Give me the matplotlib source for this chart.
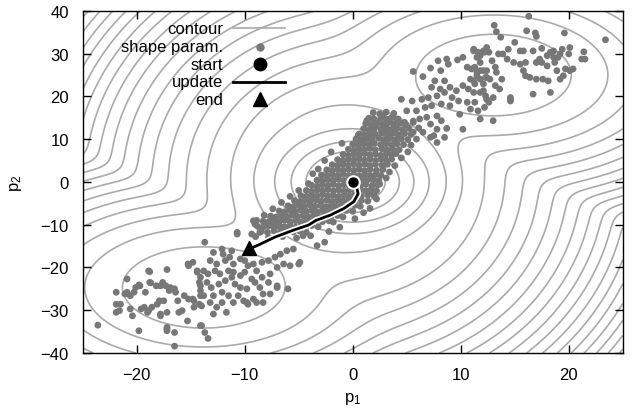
import numpy as np
import matplotlib
matplotlib.use('Agg')
import matplotlib.pyplot as plt
import matplotlib.patheffects as pe
from matplotlib.lines import Line2D

plt.rcParams['font.family'] = 'Liberation Sans'
plt.rcParams['font.size'] = 12
plt.rcParams['mathtext.fontset'] = 'custom'
plt.rcParams['mathtext.rm'] = 'Liberation Sans'
plt.rcParams['mathtext.it'] = 'Liberation Sans'

#--- shape parameters (p1, p2) ---
upper_lobe = [
    (16.3, 38.7), (13.1, 36.6), (13.3, 35.1), (16.1, 35.3), (16.9, 34.8), (17.0, 34.0), (19.6, 34.8),
    (23.4, 33.2), (13.7, 33.8), (15.0, 32.6), (12.4, 31.4), (12.1, 30.6), (11.2, 30.6), (11.6, 30.3),
    (12.6, 30.3), (14.4, 31.0), (15.5, 30.6), (15.8, 30.6), (16.7, 30.6), (17.5, 31.2), (18.3, 30.3),
    (18.6, 30.6), (19.4, 31.0), (20.1, 31.4), (21.4, 30.4), (21.2, 28.7), (21.5, 28.7), (11.5, 29.1),
    (11.8, 27.9), (12.9, 28.3), (13.5, 29.9), (13.9, 29.9), (14.3, 28.7), (14.9, 27.9), (15.5, 27.5),
    (16.0, 27.9), (17.0, 27.9), (17.3, 28.7), (18.0, 29.5), (18.6, 29.1), (19.0, 29.1), (19.2, 29.9),
    (20.0, 29.9), (11.3, 26.8), (11.8, 26.0), (12.4, 26.0), (13.2, 26.8), (13.3, 25.6), (13.8, 24.0),
    (12.7, 24.0), (12.3, 24.4), (11.5, 24.8), (11.2, 23.6), (11.3, 22.9), (12.1, 22.9), (13.2, 22.5),
    (13.6, 21.7), (12.1, 21.3), (12.3, 20.1), (13.0, 19.7), (12.6, 18.6), (14.6, 19.7), (14.6, 18.9),
    (15.8, 26.0), (16.0, 24.8), (16.4, 24.4), (17.0, 24.0), (17.6, 24.0), (18.1, 23.6), (18.9, 26.0),
    (19.7, 26.4), (20.1, 26.0), (20.4, 26.4), (19.2, 24.0), (19.5, 24.8), (16.7, 20.5), (18.3, 20.9),
    (18.0, 27.1), (17.5, 27.9), (18.7, 27.9),
    (5.6, 25.8), (6.5, 24.6), (7.2, 26.6), (7.9, 28.3), (8.7, 28.7), (8.85, 27.5), (8.15, 26.0),
    (9.7, 28.5), (10.2, 29.1), (11.2, 31.0), (11.8, 29.5), (12.2, 30.3), (10.6, 26.8), (11.0, 26.4),
    (11.5, 25.6), (12.1, 26.0), (10.9, 24.0), (11.8, 24.0), (12.4, 24.4), (8.5, 23.6), (7.6, 23.6),
    (7.3, 22.1), (8.1, 21.7), (9.0, 22.1), (9.6, 21.3), (10.2, 22.5), (10.7, 21.7), (11.2, 20.9),
    (11.8, 20.9), (4.5, 19.3), (5.5, 18.9), (6.4, 19.3), (7.0, 19.7), (7.8, 20.1), (8.5, 20.9),
    (9.2, 19.7), (9.8, 18.9), (10.6, 18.6), (11.3, 18.6), (10.9, 17.0), (11.6, 16.6), (12.2, 17.4),
    (12.4, 19.3), (5.0, 16.6), (5.9, 16.6), (6.7, 17.4), (7.3, 17.8), (8.2, 18.2), (9.0, 17.8),
    (9.9, 15.8), (11.8, 14.7), (10.2, 12.3), (2.8, 15.4), (3.45, 14.7), (1.9, 14.8), (4.2, 14.7),
    (4.8, 13.9), (5.6, 13.9), (6.2, 14.7), (6.85, 15.1), (7.8, 15.4), (8.2, 14.3), (7.2, 13.5),
    (7.8, 12.3), (8.7, 12.5), (2.1, 13.1), (3.0, 12.7), (3.9, 11.9), (4.7, 11.6), (5.6, 11.6),
    (6.5, 11.6), (7.5, 10.8), (13.0, 14.3), (14.6, 19.3), (8.5, 10.4), (7.8, 9.2), (7.2, 10.4),
    (1.6, 11.2), (3.1, 11.9),
]

lower_lobe = [
    (-23.6, -33.5), (-19.8, -34.8), (-18.8, -21.0), (-17.2, -20.5), (-15.25, -19.2), (-15.2, -19.6),
    (-18.7, -23.6), (-18.2, -24.3), (-17.6, -23.5), (-17.3, -24.3), (-16.9, -24.7), (-16.5, -25.0),
    (-16.4, -25.8), (-17.0, -25.4), (-19.8, -24.1), (-20.1, -24.7), (-20.9, -25.8), (-20.6, -26.6),
    (-20.25, -25.8), (-19.2, -25.8), (-21.9, -28.6), (-21.5, -28.6), (-21.9, -30.5), (-21.6, -30.1),
    (-20.6, -29.7), (-20.4, -31.3), (-19.6, -29.7), (-19.3, -29.3), (-18.9, -30.1), (-18.6, -29.3),
    (-19.0, -30.5), (-17.8, -30.9), (-17.2, -30.5), (-17.9, -27.8), (-17.5, -27.8), (-18.1, -28.6),
    (-16.2, -27.8), (-16.1, -30.5), (-15.8, -30.1), (-15.6, -26.6), (-15.2, -27.4), (-14.7, -27.8),
    (-14.2, -28.6), (-14.7, -29.3), (-15.3, -32.5), (-14.1, -33.6), (-17.2, -34.0), (-17.2, -34.8),
    (-16.5, -35.2), (-16.5, -38.4), (-14.4, -21.1), (-14.2, -23.5), (-14.1, -25.4), (-14.1, -26.6),
    (-13.7, -14.1), (-14.8, -18.8), (-12.9, -16.5), (-12.1, -15.7), (-12.0, -16.9), (-11.2, -16.1),
    (-10.7, -12.2), (-9.05, -9.9), (-9.35, -12.2), (-8.6, -11.8), (-8.1, -9.9), (-7.35, -8.7),
    (-7.0, -10.3), (-6.1, -8.7), (-4.9, -18.8), (-13.2, -18.4), (-12.6, -19.2), (-11.8, -18.4),
    (-11.4, -17.6), (-11.05, -19.2), (-10.4, -18.0), (-10.0, -18.4), (-9.7, -19.6), (-9.2, -19.2),
    (-8.9, -20.8), (-8.4, -18.8), (-7.8, -18.4), (-7.2, -17.6), (-6.7, -16.9), (-6.1, -16.1),
    (-5.5, -15.7), (-14.4, -20.8), (-13.8, -20.8), (-14.1, -22.3), (-13.4, -21.5), (-12.75, -20.8),
    (-12.3, -21.5), (-11.5, -20.8), (-11.05, -21.1), (-10.4, -21.9), (-10.0, -21.1), (-9.35, -22.7),
    (-9.05, -23.5), (-8.4, -22.3), (-7.65, -21.5), (-7.0, -20.0), (-6.4, -19.2), (-5.8, -19.6),
    (-14.1, -24.3), (-13.5, -23.5), (-13.1, -24.7), (-12.4, -23.9), (-11.8, -23.1), (-11.2, -22.3),
    (-10.9, -23.9), (-10.4, -24.7), (-9.8, -25.0), (-8.6, -24.7), (-7.8, -23.5), (-7.0, -24.7),
    (-6.0, -25.0), (-13.8, -26.6), (-12.9, -26.6), (-12.1, -25.8), (-11.5, -26.6), (-10.6, -26.6),
    (-10.1, -27.8), (-9.2, -27.4), (-7.65, -26.2), (-14.8, -27.4), (-13.2, -28.2), (-12.1, -28.2),
    (-11.05, -28.2), (-9.7, -28.6), (-14.0, -29.0), (-8.3, -28.2),
    (-13.4, -36.6), (-13.7, -35.2), (-14.0, -33.6), (-17.2, -34.4), (-12.9, -30.9), (-11.7, -30.5),
    (-12.6, -29.3), (-9.8, -28.2), (-8.9, -28.2), (-8.3, -26.2), (-7.0, -24.3), (-5.0, -19.2),
    (-3.3, -14.9), (-2.6, -14.1), (-4.6, -12.6), (-5.5, -11.4), (-6.6, -10.6), (-7.5, -9.5),
    (-9.2, -9.1), (-10.7, -11.8), (-18.9, -20.8), (-20.9, -22.7), (-19.7, -24.3), (-21.9, -25.8),
    (-21.1, -26.2), (-18.8, -23.5), (-17.8, -24.3), (-17.8, -31.3),
]

core_band = [
    (1.9, 16.2), (2.5, 15.9), (3.1, 16.3), (3.8, 16.0),
    (1.5, 14.9), (2.0, 14.6), (2.6, 14.9), (3.1, 14.7), (3.6, 15.0), (4.1, 14.6),
    (1.2, 13.6), (1.7, 13.4), (2.3, 13.7), (2.8, 13.5), (3.3, 13.8), (3.8, 13.5), (4.4, 13.7), (4.9, 13.4),
    (1.0, 12.4), (1.5, 12.2), (2.0, 12.5), (2.6, 12.3), (3.1, 12.6), (3.6, 12.3), (4.1, 12.5), (4.6, 12.2), (5.2, 12.5),
    (0.6, 11.2), (1.1, 11.0), (1.6, 11.3), (2.1, 11.1), (2.7, 11.4), (3.2, 11.1), (3.7, 11.3), (4.2, 11.0), (4.8, 11.3), (5.4, 11.1),
    (0.3, 10.0), (0.8, 9.8), (1.3, 10.1), (1.8, 9.9), (2.4, 10.2), (2.9, 9.9), (3.4, 10.1), (3.9, 9.8), (4.5, 10.1), (5.1, 9.9),
    (0.0, 8.8), (0.5, 8.6), (1.0, 8.9), (1.5, 8.7), (2.0, 9.0), (2.6, 8.7), (3.1, 8.9), (3.6, 8.6), (4.1, 8.9), (4.7, 8.7),
    (-0.4, 7.6), (0.1, 7.4), (0.6, 7.7), (1.1, 7.5), (1.6, 7.8), (2.1, 7.5), (2.7, 7.7), (3.2, 7.4), (3.7, 7.7), (4.3, 7.5),
    (-0.9, 6.4), (-0.4, 6.2), (0.1, 6.5), (0.6, 6.3), (1.1, 6.6), (1.6, 6.3), (2.1, 6.5), (2.6, 6.2), (3.1, 6.5), (3.6, 6.3), (4.0, 6.6),
    (-1.4, 5.2), (-0.9, 5.0), (-0.4, 5.3), (0.1, 5.1), (0.6, 5.4), (1.1, 5.1), (1.6, 5.3), (2.1, 5.0), (2.6, 5.3), (3.1, 5.1), (3.6, 5.3),
    (-1.9, 4.0), (-1.4, 3.8), (-0.9, 4.1), (-0.4, 3.9), (0.1, 4.2), (0.6, 3.9), (1.1, 4.1), (1.6, 3.8), (2.1, 4.1), (2.7, 3.9), (3.2, 4.1),
    (-2.4, 2.8), (-1.9, 2.6), (-1.4, 2.9), (-0.9, 2.7), (-0.4, 3.0), (0.1, 2.7), (0.6, 2.9), (1.1, 2.6), (1.6, 2.9), (2.2, 2.7), (2.8, 2.9),
    (-2.9, 1.6), (-2.4, 1.4), (-1.9, 1.7), (-1.4, 1.5), (-0.9, 1.8), (-0.4, 1.5), (0.1, 1.7), (0.6, 1.4), (1.1, 1.7), (1.6, 1.5), (2.1, 1.7), (2.6, 1.5),
    (-3.3, 0.4), (-2.8, 0.2), (-2.3, 0.5), (-1.8, 0.3), (-1.3, 0.6), (-0.8, 0.3), (-0.3, 0.5), (0.3, 0.2), (0.8, 0.5), (1.3, 0.3), (1.9, 0.5), (2.4, 0.3),
    (-3.8, -0.8), (-3.3, -1.0), (-2.8, -0.7), (-2.3, -0.9), (-1.8, -0.6), (-1.3, -0.9), (-0.8, -0.7), (-0.3, -1.0), (0.2, -0.7), (0.7, -0.9), (1.2, -0.6), (1.8, -0.9), (2.3, -0.7),
    (-4.3, -2.0), (-3.8, -2.2), (-3.3, -1.9), (-2.8, -2.1), (-2.3, -1.8), (-1.8, -2.1), (-1.3, -1.9), (-0.8, -2.2), (-0.3, -1.9), (0.2, -2.1), (0.7, -1.8), (1.2, -2.1), (1.7, -1.9), (2.2, -2.1),
    (-4.8, -3.2), (-4.3, -3.4), (-3.8, -3.1), (-3.3, -3.3), (-2.8, -3.0), (-2.3, -3.3), (-1.8, -3.1), (-1.3, -3.4), (-0.8, -3.1), (-0.3, -3.3), (0.2, -3.0), (0.8, -3.3), (1.4, -3.1), (2.0, -3.3),
    (-5.4, -4.4), (-4.9, -4.6), (-4.4, -4.3), (-3.9, -4.5), (-3.4, -4.2), (-2.9, -4.5), (-2.4, -4.3), (-1.9, -4.6), (-1.4, -4.3), (-0.9, -4.5), (-0.4, -4.2), (0.2, -4.5), (0.8, -4.3), (1.4, -4.5),
    (-6.0, -5.6), (-5.5, -5.8), (-5.0, -5.5), (-4.5, -5.7), (-4.0, -5.4), (-3.5, -5.7), (-3.0, -5.5), (-2.5, -5.8), (-2.0, -5.5), (-1.5, -5.7), (-1.0, -5.4), (-0.4, -5.7), (0.2, -5.5), (0.7, -5.7),
    (-6.8, -6.8), (-6.3, -7.0), (-5.8, -6.7), (-5.3, -6.9), (-4.8, -6.6), (-4.3, -6.9), (-3.8, -6.7), (-3.3, -7.0), (-2.8, -6.7), (-2.3, -6.9), (-1.8, -6.6), (-1.2, -6.9), (-0.6, -6.7), (0.0, -6.9),
    (-7.6, -8.0), (-7.1, -8.2), (-6.6, -7.9), (-6.1, -8.1), (-5.6, -7.8), (-5.1, -8.1), (-4.6, -7.9), (-4.1, -8.2), (-3.6, -7.9), (-3.1, -8.1), (-2.6, -7.8), (-2.0, -8.1), (-1.4, -7.9), (-0.9, -8.2),
    (-8.3, -9.2), (-7.8, -9.4), (-7.3, -9.1), (-6.8, -9.3), (-6.3, -9.0), (-5.8, -9.3), (-5.3, -9.1), (-4.8, -9.4), (-4.3, -9.1), (-3.8, -9.3), (-3.3, -9.0), (-2.8, -9.3), (-2.2, -9.1), (-1.8, -9.4),
    (-8.8, -10.4), (-8.3, -10.6), (-7.8, -10.3), (-7.3, -10.5), (-6.8, -10.2), (-6.3, -10.5), (-5.8, -10.3), (-5.3, -10.6), (-4.8, -10.3), (-4.3, -10.5), (-3.8, -10.2), (-3.2, -10.5),
    (-8.5, -11.6), (-7.9, -11.8), (-7.3, -11.5), (-6.7, -11.7), (-6.1, -11.4), (-5.5, -11.7), (-4.9, -11.5), (-4.3, -11.8),
    (-9.0, -12.8), (-7.8, -13.0), (-6.5, -12.8), (-5.2, -13.1), (-3.9, -12.6), (-2.2, -11.6), (-1.2, -10.6),
    (0.2, -8.6), (1.0, -7.2), (1.6, -6.2), (2.2, -4.0), (1.9, -2.9), (2.5, -0.5), (3.1, 0.9), (3.4, 2.3),
    (3.9, 3.8), (4.5, 5.6), (5.1, 7.0), (5.4, 8.6), (5.9, 10.0), (6.1, 12.6), (5.6, 14.2), (-1.0, 9.0),
    (-2.0, 7.0), (-2.6, 5.0), (-3.2, 3.0), (-3.7, 1.9), (-4.1, -0.4), (-5.0, -2.0), (-5.8, -3.4),
    (-6.6, -4.8), (-7.4, -6.3), (-8.2, -7.8), (-8.9, -9.0), (0.5, 10.9), (1.3, 14.3),
]

#--- optimisation path ---
path_x = [0.0, 0.35, 0.5, 0.1, -0.8, -2.1, -3.4, -4.1, -5.5, -7.2, -8.6, -9.5]
path_y = [0.0, -1.2, -2.8, -4.6, -6.2, -7.8, -9.0, -10.1, -11.3, -12.9, -14.6, -15.6]
start_p = (0.0, 0.0)
end_p = (-9.6, -15.5)

x_ticks = [-20, -10, 0, 10, 20]
y_ticks = [-40, -30, -20, -10, 0, 10, 20, 30, 40]

#--- contour field ---
# -log of a 3-component diagonal GMM fitted to the samples (EM), softly merged
# with a cone around the mean that gives the evenly spaced rings
pts = np.array(upper_lobe + lower_lobe + core_band)
K = 3
t = np.linspace(-1, 1, K)
mu = np.stack([17 * t, 28 * t], 1)
var = np.tile([[16.0, 40.0]], (K, 1))
w = np.ones(K) / K
for it in range(200):
    lp = (-0.5 * (((pts[:, None, :] - mu[None]) ** 2) / var[None]).sum(-1)
          - 0.5 * np.log(var).sum(-1)[None] + np.log(w)[None])
    r = np.exp(lp - np.logaddexp.reduce(lp, axis=1)[:, None])
    nk = r.sum(0)
    w = nk / len(pts)
    mu = (r.T @ pts) / nk[:, None]
    var = (r.T @ pts ** 2) / nk[:, None] - mu ** 2 + 0.2

gx = np.linspace(-25, 25, 301)
gy = np.linspace(-40, 40, 321)
X, Y = np.meshgrid(gx, gy)
G = np.stack([X, Y], -1)
lg = (-0.5 * (((G[:, :, None, :] - mu) ** 2) / var).sum(-1)
      - 0.5 * np.log(var).sum(-1) + np.log(w))
f_gmm = -np.logaddexp.reduce(lg, axis=-1)

# level spacing: 14 contours along the bottom edge between p1=0 and p1=25
step = (f_gmm[0, -1] - f_gmm[0, np.argmin(np.abs(gx))]) / 14
ring_gap, ring_edge = 1.3, 9.0
slope = step / ring_gap
c0 = f_gmm[np.argmin(np.abs(gy)), np.argmin(np.abs(gx - ring_edge))] - slope * ring_edge
R = np.sqrt(X ** 2 + (Y / 1.65) ** 2)
f_cone = c0 + slope * R + 3 * np.maximum(0, R - 9.5) ** 2
F = -np.logaddexp(-f_gmm, -f_cone)
levels = c0 + slope * 0.4 + step * np.arange(150)

fig = plt.figure(figsize=(6.33, 4.14), dpi=100)
ax = fig.add_axes([0.1307, 0.1449, 0.8531, 0.8268])

ax.contour(gx, gy, F, levels=levels, colors='#aaaaaa', linewidths=1.2,
           linestyles='solid', negative_linestyles='solid', zorder=1)
ax.scatter(pts[:, 0], pts[:, 1], s=24, c='#777777', edgecolors='none', zorder=2)
ax.plot(path_x, path_y, color='k', lw=2, zorder=4, solid_capstyle='round',
        path_effects=[pe.Stroke(linewidth=4.5, foreground='white'), pe.Normal()])
ax.plot(*start_p, 'o', ms=9, mfc='k', mec='white', mew=1.5, zorder=5)
ax.plot(*end_p, '^', ms=10, color='k', zorder=5)

ax.set_xlim(-25, 25)
ax.set_ylim(-40, 40)
ax.set_xticks(x_ticks)
ax.set_yticks(y_ticks)
ax.tick_params(direction='in', length=6, width=1, top=True, right=True, pad=10)
for s in ax.spines.values():
    s.set_linewidth(1)
ax.set_xlabel('p$_1$', labelpad=6)
ax.set_ylabel('p$_2$', labelpad=12)

# gnuplot-style key: text right-aligned, sample on the right
tx, sx0, sx1, mx = 0.2598, 0.278, 0.3746, 0.3283
rows = [0.9486, 0.8948, 0.8443, 0.7926, 0.742]
labels = ['contour', 'shape param.', 'start', 'update', 'end']
for lab, yy in zip(labels, rows):
    ax.text(tx, yy, lab, transform=ax.transAxes, ha='right', va='center', zorder=6)
ax.add_line(Line2D([sx0, sx1], [rows[0]] * 2, transform=ax.transAxes, color='#aaaaaa', lw=1.2, zorder=6))
ax.add_line(Line2D([mx], [rows[1]], transform=ax.transAxes, marker='o', ms=5, color='#777777', lw=0, zorder=6))
ax.add_line(Line2D([mx], [rows[2]], transform=ax.transAxes, marker='o', ms=9, color='k', lw=0, zorder=6))
ax.add_line(Line2D([sx0, sx1], [rows[3]] * 2, transform=ax.transAxes, color='k', lw=2, zorder=6))
ax.add_line(Line2D([mx], [rows[4]], transform=ax.transAxes, marker='^', ms=10, color='k', lw=0, zorder=6))

fig.savefig('out.png', dpi=100)
